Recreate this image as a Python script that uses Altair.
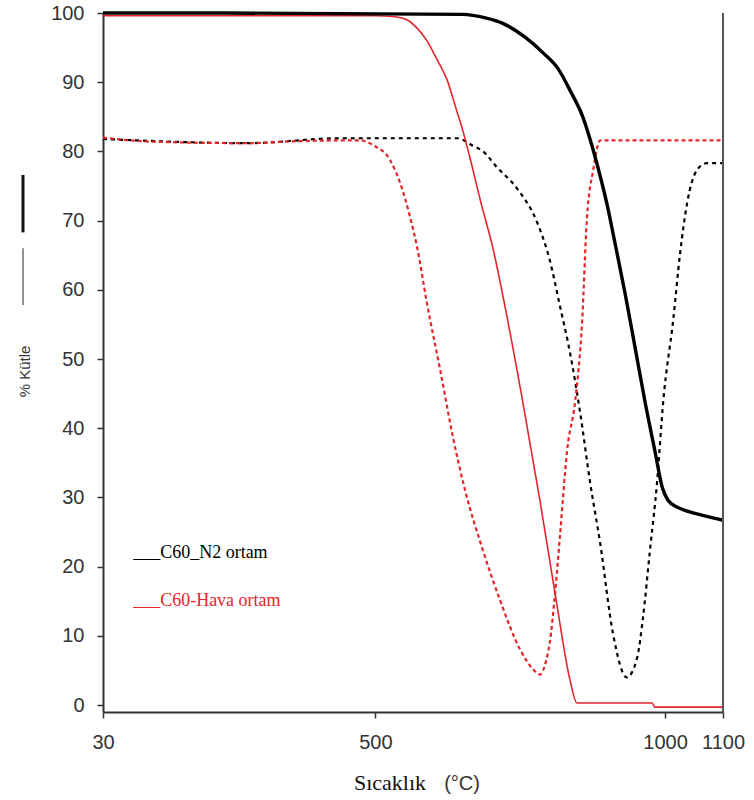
import altair as alt
import pandas as pd

# ---- data ----
n2_tga_T = [30, 240, 650, 690, 720, 760, 790, 815, 838, 858, 875, 890, 900, 913, 931, 948, 965, 983, 995, 1005, 1021, 1043, 1070, 1100]
n2_tga_y = [100, 100, 99.8, 99.3, 98.5, 96.4, 94.2, 92, 88.5, 85, 80.5, 75.8, 72.3, 67, 59.5, 51.8, 44, 36.5, 31.5, 29.6, 28.6, 27.9, 27.3, 26.7]

air_tga_T = [30, 500, 530, 555, 570, 589, 605, 624, 640, 651, 665, 681, 703, 724, 753, 784, 812, 836, 848, 978, 982, 1100]
air_tga_y = [99.6, 99.6, 99.5, 99, 98, 96, 93.5, 90.3, 86, 83, 78.5, 73, 66, 57.5, 44.5, 29.6, 15.2, 3.6, 0.3, 0.3, -0.3, -0.3]

n2_dtg_T = [30, 280, 439, 641, 669, 686, 710, 745, 779, 801, 819, 836, 853, 871, 888, 910, 934, 952, 962, 974, 986, 997, 1014, 1026, 1038, 1055, 1072, 1100]
n2_dtg_y = [81.8, 81.2, 81.9, 81.9, 80.8, 80, 77.7, 74.6, 69.8, 64.3, 57.5, 50.9, 42.5, 32, 23.4, 10.4, 4, 6.9, 12.7, 22.4, 32, 44, 55.6, 65.3, 72.5, 77.3, 78.3, 78.3]

air_dtg_T = [30, 116, 280, 370, 474, 496, 525, 543, 560, 572, 589, 612, 634, 655, 684, 715, 750, 772, 784, 795, 801, 810, 819, 831, 845, 857, 865, 876, 888, 1100]
air_dtg_y = [82, 81.4, 81.2, 81.5, 81.6, 80.9, 78.8, 75.4, 70.5, 66.2, 58.1, 48.4, 38.7, 31, 22.8, 15.2, 8, 5.2, 4.4, 6.5, 9, 16, 24.8, 36.8, 44, 55.6, 70.1, 77.3, 81.6, 81.6]

x_ticks = [30, 500, 1000, 1100]
y_ticks = [0, 10, 20, 30, 40, 50, 60, 70, 80, 90, 100]
legend_labels = ["___C60_N2 ortam", "___C60-Hava ortam"]
legend_T = [82, 82]
legend_y = [21.2, 14.3]

BLACK = "#000000"
RED = "#e3262b"
AXC = "#333333"

xscale = alt.Scale(domain=[30, 1100], nice=False, zero=False)
yscale = alt.Scale(domain=[-1, 100], nice=False, zero=False)

xaxis = alt.Axis(values=x_ticks, format="d", title=None, grid=False, labelFont="Liberation Sans",
                 labelFontSize=20, labelColor=AXC, tickSize=6, tickColor=AXC, tickWidth=1.5,
                 domainColor=AXC, domainWidth=2, labelPadding=14, labelFlush=False)
yaxis = alt.Axis(values=y_ticks, format="d", title="% Kütle", grid=False, labelFont="Liberation Sans",
                 labelFontSize=20, labelColor=AXC, tickSize=6, tickColor=AXC, tickWidth=1.5,
                 domainColor=AXC, domainWidth=2, labelPadding=13,
                 titleFont="Liberation Sans", titleFontSize=15, titleFontWeight="normal",
                 titleColor=AXC, titleX=-79, titleY=358, titleAngle=270,
                 titleAlign="center", titleBaseline="middle")


def series(T, y, color, width, dash=None):
    df = pd.DataFrame({"T": T, "v": y})
    kw = dict(color=color, strokeWidth=width, interpolate="monotone")
    if dash:
        kw["strokeDash"] = dash
    return alt.Chart(df).mark_line(**kw).encode(
        x=alt.X("T:Q", scale=xscale, axis=xaxis),
        y=alt.Y("v:Q", scale=yscale, axis=yaxis),
    )


l_n2dtg = series(n2_dtg_T, n2_dtg_y, BLACK, 2.2, [4, 4])
l_airdtg = series(air_dtg_T, air_dtg_y, RED, 2.2, [4, 3])
l_airtga = series(air_tga_T, air_tga_y, RED, 1.6)
l_n2tga = series(n2_tga_T, n2_tga_y, BLACK, 3.4)

one = pd.DataFrame({"a": [0]})

right_line = alt.Chart(one).mark_rule(color="#555555", strokeWidth=2).encode(
    x=alt.datum(1100, scale=xscale, axis=xaxis)
)

leg_thick = alt.Chart(one).mark_rule(color="#111111", strokeWidth=3).encode(
    x=alt.value(-80), y=alt.datum(76.6, scale=yscale, axis=yaxis), y2=alt.datum(68.3)
)
leg_thin = alt.Chart(one).mark_rule(color="#777777", strokeWidth=1.6).encode(
    x=alt.value(-80), y=alt.datum(66.0, scale=yscale, axis=yaxis), y2=alt.datum(57.8)
)

leg_df = pd.DataFrame({"T": legend_T, "v": legend_y, "lab": legend_labels, "c": [BLACK, RED]})
legend_text = alt.Chart(leg_df).mark_text(
    font="Liberation Serif", fontSize=18, align="left", baseline="alphabetic"
).encode(
    x=alt.X("T:Q", scale=xscale, axis=xaxis),
    y=alt.Y("v:Q", scale=yscale, axis=yaxis),
    text="lab:N",
    color=alt.Color("c:N", scale=None),
)

xt1 = alt.Chart(one).mark_text(
    text="Sıcaklık", font="Liberation Serif", fontSize=22, color="#111111",
    align="center", baseline="alphabetic"
).encode(x=alt.value(287), y=alt.value(777))
xt2 = alt.Chart(one).mark_text(
    text="(°C)", font="Liberation Sans", fontSize=20, color=AXC,
    align="center", baseline="alphabetic"
).encode(x=alt.value(359), y=alt.value(777))

chart = alt.layer(
    l_n2dtg, l_airdtg, l_airtga, l_n2tga, right_line, leg_thick, leg_thin,
    legend_text, xt1, xt2
).properties(
    width=620, height=699,
    autosize=alt.AutoSizeParams(type="none"),
    padding={"left": 103, "top": 13, "right": 31, "bottom": 88},
    background="white",
).configure_view(stroke=None)

chart.save("out.html", embed_options={"renderer": "svg", "actions": False})
